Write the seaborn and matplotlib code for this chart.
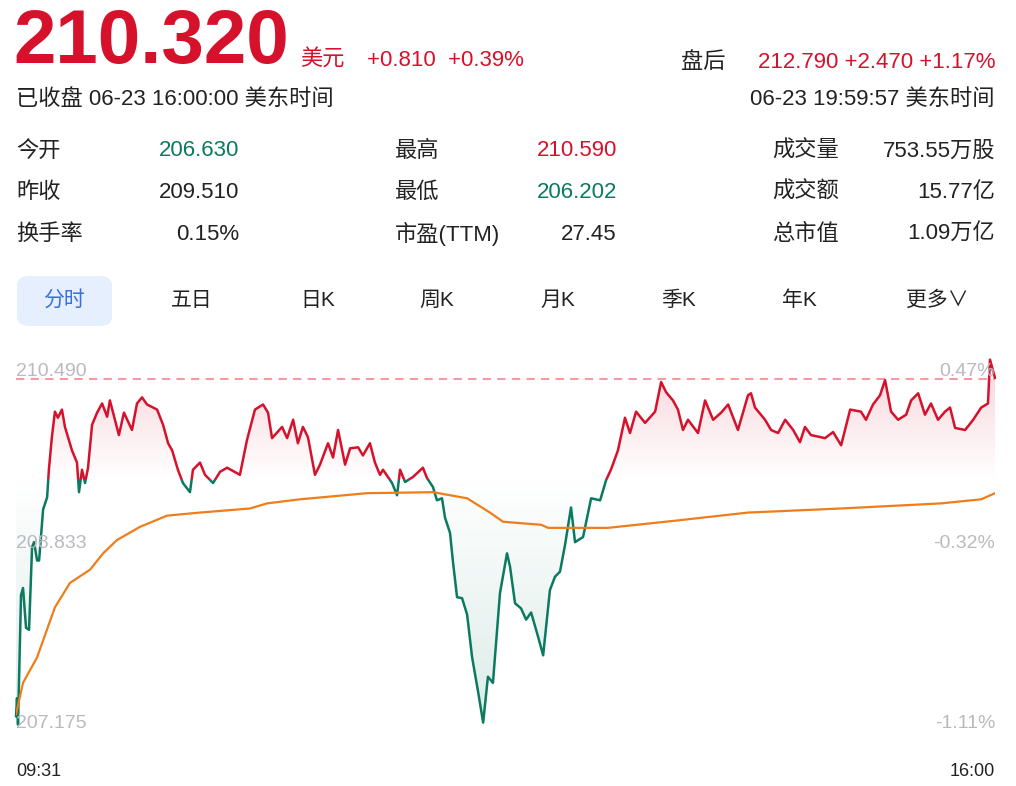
import numpy as np
import pandas as pd
import matplotlib
matplotlib.use("Agg")
import matplotlib.pyplot as plt
import matplotlib.patches as patches
import seaborn as sns

sns.set_theme(style="white")
plt.rcParams["font.family"] = ["Liberation Sans", "Noto Sans CJK SC"]

red = "#d6112b"
green = "#0b7a5f"
dark = "#222222"
grey = "#b9bac0"
orange = "#ef7d1a"

# minutes since 09:30 open and price
minutes = [0, 0.4, 0.8, 2.0, 2.8, 4.0, 5.2, 6.4, 7.2, 8.4, 9.2, 10.8, 12.4, 13.1, 14.3, 15.5, 16.7, 18.3,
           19.5, 22.3, 24.3, 25.1, 26.3, 27.5, 28.7, 30.3, 32.3, 34.3, 36.3, 37.4, 39.4, 41.0, 43.0, 46.2,
           48.2, 50.2, 52.2, 56.2, 58.6, 60.6, 62.2, 64.5, 66.5, 69.3, 70.5, 73.3, 75.3, 78.5, 81.3, 84.1,
           89.2, 92.0, 95.2, 98.4, 100.4, 102.0, 106.0, 108.0, 110.4, 112.3, 114.3, 116.3, 119.1, 121.1,
           124.3, 126.3, 128.3, 131.1, 133.1, 136.3, 138.2, 141.0, 143.0, 145.0, 146.2, 149.8, 151.8, 153.0,
           155.0, 158.2, 162.1, 163.7, 166.1, 167.7, 169.7, 170.9, 172.9, 174.1, 175.7, 177.7, 179.7, 181.7,
           184.1, 186.1, 188.0, 190.0, 192.8, 195.6, 196.8, 198.8, 201.2, 203.2, 205.2, 208.0, 210.0, 212.7,
           214.7, 216.7, 218.7, 221.1, 222.7, 225.9, 229.1, 232.7, 235.1, 237.0, 239.8, 242.6, 244.6, 247.0,
           250.6, 254.6, 257.0, 259.0, 261.7, 263.7, 265.7, 267.7, 271.7, 274.5, 277.7, 280.9, 283.7, 287.6,
           291.6, 292.8, 294.4, 298.4, 300.8, 303.6, 306.4, 309.6, 312.3, 314.3, 316.7, 322.3, 325.5, 328.7,
           332.3, 336.6, 338.6, 341.4, 344.2, 346.2, 348.6, 351.4, 354.6, 356.6, 359.4, 362.1, 364.5, 367.3,
           370.1, 372.1, 374.1, 378.1, 381.3, 384.5, 387.2, 388.0, 390.0]
prices = [207.18, 207.36, 207.10, 208.37, 208.44, 208.05, 208.03, 208.84, 208.89, 208.71, 208.71, 209.21,
          209.33, 209.60, 209.92, 210.17, 210.11, 210.19, 210.02, 209.79, 209.67, 209.38, 209.60, 209.47,
          209.62, 210.04, 210.16, 210.25, 210.12, 210.28, 210.09, 209.94, 210.16, 209.99, 210.25, 210.31,
          210.24, 210.19, 210.04, 209.86, 209.79, 209.60, 209.47, 209.38, 209.60, 209.67, 209.55, 209.47,
          209.58, 209.62, 209.55, 209.89, 210.19, 210.24, 210.16, 209.91, 210.02, 209.91, 210.09, 209.86,
          210.02, 209.92, 209.55, 209.65, 209.86, 209.72, 209.99, 209.65, 209.81, 209.82, 209.74, 209.86,
          209.67, 209.55, 209.60, 209.47, 209.35, 209.60, 209.48, 209.53, 209.62, 209.52, 209.43, 209.30,
          209.32, 209.13, 208.98, 208.69, 208.35, 208.34, 208.18, 207.76, 207.42, 207.12, 207.57, 207.51,
          208.39, 208.78, 208.65, 208.29, 208.24, 208.13, 208.20, 207.96, 207.78, 208.42, 208.55, 208.60,
          208.86, 209.23, 208.89, 208.94, 209.32, 209.30, 209.50, 209.60, 209.79, 210.11, 209.96, 210.17,
          210.06, 210.17, 210.46, 210.36, 210.28, 210.19, 209.99, 210.09, 209.96, 210.28, 210.09, 210.16,
          210.24, 209.99, 210.33, 210.35, 210.21, 210.09, 209.99, 209.96, 210.09, 209.99, 209.87, 210.02,
          209.94, 209.91, 209.97, 209.84, 210.19, 210.17, 210.09, 210.24, 210.33, 210.48, 210.17, 210.09,
          210.14, 210.28, 210.35, 210.14, 210.25, 210.09, 210.17, 210.21, 210.01, 209.99, 210.09, 210.21,
          210.25, 210.68, 210.50]

avg_minutes = [0, 2.8, 8.4, 15.5, 21.5, 29.5, 34.7, 40.2, 49.4, 60.2, 73.3, 93.2, 100.0, 113.1, 139.8,
               166.1, 179.7, 188.8, 194.0, 209.2, 212.0, 235.8, 262.5, 291.6, 328.7, 368.5, 384.5, 390.0]
avg_prices = [207.20, 207.51, 207.76, 208.25, 208.49, 208.62, 208.78, 208.91, 209.04, 209.15, 209.18,
              209.22, 209.27, 209.31, 209.37, 209.38, 209.32, 209.18, 209.09, 209.06, 209.03, 209.03,
              209.10, 209.18, 209.22, 209.27, 209.31, 209.37]

prev_close = 209.510
y_top, y_mid, y_bot = 210.490, 208.833, 207.175
right_labels = ["0.47%", "-0.32%", "-1.11%"]

df = pd.DataFrame({"minute": minutes, "price": prices})
avg_df = pd.DataFrame({"minute": avg_minutes, "price": avg_prices})

W, H = 1016, 786
fig = plt.figure(figsize=(W / 100, H / 100), dpi=100)


def px(x, y):
    return x / W, 1 - y / H


def put(x, y, s, color=dark, size=15, ha="left", **kw):
    fig.text(*px(x, y), s, color=color, fontsize=size, ha=ha, va="center", **kw)


# header
put(13, 43, "210.320", color=red, size=55, weight="bold")
put(300, 60, "美元", color=red, size=16)
put(367, 60, "+0.810  +0.39%", color=red, size=16)
put(681, 62, "盘后", size=16)
put(995, 62, "212.790 +2.470 +1.17%", color=red, size=16, ha="right")
put(16, 99, "已收盘 06-23 16:00:00 美东时间", size=16)
put(995, 99, "06-23 19:59:57 美东时间", size=16, ha="right")

rows = [151, 192, 234]
stats = [
    [("今开", "206.630", green), ("昨收", "209.510", dark), ("换手率", "0.15%", dark)],
    [("最高", "210.590", red), ("最低", "206.202", green), ("市盈(TTM)", "27.45", dark)],
    [("成交量", "753.55万股", dark), ("成交额", "15.77亿", dark), ("总市值", "1.09万亿", dark)],
]
col_x = [(16, 239), (395, 617), (772, 995)]
for (lx, vx), col in zip(col_x, stats):
    for y, (label, val, c) in zip(rows, col):
        put(lx, y, label, size=16)
        put(vx, y, val, color=c, size=16, ha="right")

# tabs
fig.patches.append(patches.FancyBboxPatch(px(17, 326), 95 / W, 50 / H,
                                          boxstyle="round,pad=0,rounding_size=0.012",
                                          transform=fig.transFigure, fc="#e6effd", ec="none"))
put(64, 300, "分时", color="#3b6fe0", size=15, ha="center")
for x, s in zip([192, 318, 437, 558, 679, 799, 937],
                ["五日", "日K", "周K", "月K", "季K", "年K", "更多∨"]):
    put(x, 300, s, size=15, ha="center")

# chart
ax = fig.add_axes([16 / W, (H - 717) / H, 979 / W, 338 / H])
ax.set_xlim(0, 390)
ax.set_ylim(y_bot, y_top)
ax.axis("off")

# gradient fills
poly = ax.fill_between(df["minute"], df["price"], prev_close, color="none")
up = np.linspace(0, 1, 256).reshape(-1, 1)
cmap_r = matplotlib.colors.LinearSegmentedColormap.from_list("r", ["#ffffff", "#f8d9de"])
cmap_g = matplotlib.colors.LinearSegmentedColormap.from_list("g", ["#ffffff", "#dcece8"])
im_r = ax.imshow(up, extent=(0, 390, prev_close, y_top + 0.05), origin="lower", cmap=cmap_r,
                 aspect="auto", zorder=1)
im_g = ax.imshow(up[::-1], extent=(0, 390, y_bot - 0.1, prev_close), origin="lower", cmap=cmap_g,
                 aspect="auto", zorder=1)
for im in (im_r, im_g):
    im.set_clip_path(poly.get_paths()[0], transform=ax.transData)
ax.set_xlim(0, 390)
ax.set_ylim(y_bot, y_top)

ax.axhline(y_top, color="#f59aa4", lw=1.5, ls=(0, (4, 3)), zorder=2, clip_on=False)

n0 = len(ax.lines)
sns.lineplot(data=df, x="minute", y="price", color=red, lw=1.8, ax=ax, zorder=3)
sns.lineplot(data=df, x="minute", y="price", color=green, lw=1.8, ax=ax, zorder=3)
red_line, green_line = ax.lines[n0], ax.lines[n0 + 1]
above = patches.Rectangle((-10, prev_close), 420, 5, transform=ax.transData)
below = patches.Rectangle((-10, prev_close - 5), 420, 5, transform=ax.transData)
red_line.set_clip_path(above)
green_line.set_clip_path(below)

sns.lineplot(data=avg_df, x="minute", y="price", color=orange, lw=1.6, ax=ax, zorder=4)
ax.set_xlabel("")
ax.set_ylabel("")

for y, v, r in zip([371, 544, 724], [y_top, y_mid, y_bot], right_labels):
    put(16, y, f"{v:.3f}", color=grey, size=14)
    put(995, y, r, color=grey, size=14, ha="right")
put(16, 772, "09:31", size=13)
put(995, 772, "16:00", size=13, ha="right")

fig.savefig("out.png", dpi=100)
